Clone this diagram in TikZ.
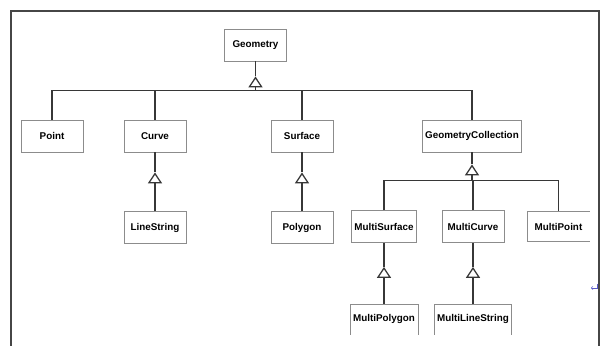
\documentclass[tikz,border=0pt]{standalone}
\usepackage{fontspec}
\setmainfont{Liberation Sans}
\usetikzlibrary{arrows.meta,positioning}
\definecolor{boxgray}{RGB}{140,140,140}
\definecolor{linegray}{RGB}{55,55,55}
\definecolor{framegray}{RGB}{70,70,70}
\definecolor{markblue}{RGB}{90,90,200}

\begin{document}
\begin{tikzpicture}[
    x=0.025cm, y=0.025cm,
    node distance=1.475cm and 0.4cm,
    cls/.style={rectangle,draw=boxgray,line width=0.6pt,minimum width=1.55cm,minimum height=0.8cm,inner xsep=2pt,text centered,font=\fontsize{7}{8}\selectfont\bfseries},
    cutbox/.style={rectangle,minimum width=1.55cm,minimum height=0.75cm,inner xsep=2pt,text centered,font=\fontsize{7}{8}\selectfont\bfseries},
    side/.style={draw=boxgray,line width=0.6pt},
    link/.style={draw=linegray,line width=0.9pt},
    inh/.style={link,-{Triangle[open,length=7.8pt,width=10pt]}}
]
\useasboundingbox (0,0) rectangle (601,-346);
% frame
\draw[framegray,line width=1.4pt] (11,-346) -- (11,-11) -- (599,-11) -- (599,-346);

% classes
\node[cls] (geo) at (255.5,-45) {Geometry};
\node[cls] (point) at (52,-136) {Point};
\node[cls] (curve) at (155,-136) {Curve};
\node[cls] (surf) at (302,-136) {Surface};
\node[cls] (gcoll) at (472,-136) {GeometryCollection};
\node[cls,below=of curve] (lstr) {LineString};
\node[cls,below=of surf] (poly) {Polygon};
\node[cls] (msurf) at (384,-226.5) {MultiSurface};
\node[cls] (mcurve) at (473,-226.5) {MultiCurve};
\node[cutbox] (mpoint) at (558.5,-226.5) {MultiPoint};
\node[cutbox,below=1.525cm of msurf] (mpoly) {MultiPolygon};
\node[cutbox,below=1.525cm of mcurve] (mlstr) {MultiLineString};
\draw[side] (mpoint.north east) -- (mpoint.north west) -- (mpoint.south west) -- (mpoint.south east);
\draw[side] (mpoly.south west) -- (mpoly.north west) -- (mpoly.north east) -- (mpoly.south east);
\draw[side] (mlstr.south west) -- (mlstr.north west) -- (mlstr.north east) -- (mlstr.south east);

% generalisation
\coordinate[below=0.375cm of geo.south] (geo-t);
\coordinate[below=0.725cm of geo.south] (geo-j);
\draw[link] (geo.south) -- (geo-t);
\draw[inh] (geo-j) -- (geo-t);
\draw[link] (point.north) |- (geo-j) -| (gcoll.north);
\draw[link] (curve.north) -- (curve.north |- geo-j);
\draw[link] (surf.north) -- (surf.north |- geo-j);

\coordinate[below=0.5cm of curve.south] (curve-t);
\draw[link] (curve.south) -- (curve-t);
\draw[inh] (lstr.north) -- (curve-t);
\coordinate[below=0.5cm of surf.south] (surf-t);
\draw[link] (surf.south) -- (surf-t);
\draw[inh] (poly.north) -- (surf-t);

\coordinate[below=0.3cm of gcoll.south] (gcoll-t);
\coordinate[below=0.7cm of gcoll.south] (gcoll-j);
\draw[link] (gcoll.south) -- (gcoll-t);
\draw[inh] (gcoll-j) -- (gcoll-t);
\draw[link] (msurf.north) |- (gcoll-j) -| (mpoint.north);
\draw[link] (mcurve.north) -- (mcurve.north |- gcoll-j);

\coordinate[below=0.6cm of msurf.south] (msurf-t);
\draw[link] (msurf.south) -- (msurf-t);
\draw[inh] (mpoly.north) -- (msurf-t);
\coordinate[below=0.6cm of mcurve.south] (mcurve-t);
\draw[link] (mcurve.south) -- (mcurve-t);
\draw[inh] (mlstr.north) -- (mcurve-t);

% return mark
\draw[markblue,line width=0.4pt,-{To[length=1.5pt,width=2.5pt]}] (597,-284) -- (597,-288) -- (591,-288);
\end{tikzpicture}
\end{document}
